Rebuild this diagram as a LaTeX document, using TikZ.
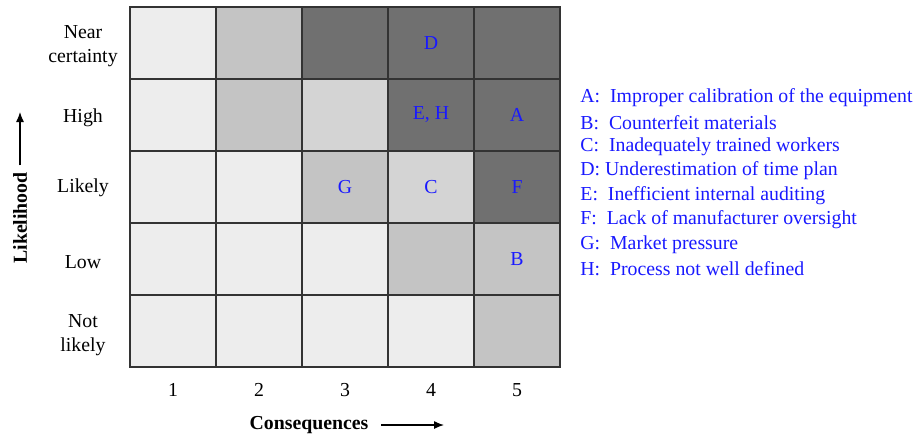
\documentclass[tikz,border=0pt]{standalone}
\usepackage{fontspec}
\setmainfont{Liberation Serif}
\usetikzlibrary{arrows.meta}
\definecolor{riskblue}{RGB}{25,25,255}
\tikzset{
lowcell/.style={rectangle, draw=black!80, fill=black!7, line width=0.75pt, inner sep=0pt, minimum width= 43pt, minimum height = 36pt, text=riskblue},
palecell/.style={lowcell, fill=black!17},
midcell/.style={lowcell, fill=black!23},
highcell/.style={lowcell, fill=black!56},
ratinglabel/.style={align=center, inner sep=1pt},
legendentry/.style={anchor=west, inner sep=0pt, text=riskblue},
axisarrow/.style={-{Latex[length=5pt, width=4pt]}, semithick, black},
}

\begin{document}
\begin{tikzpicture}[x=0.5pt, y=-0.5pt, font=\fontsize{9.9}{12}\selectfont]
    \useasboundingbox (0,0) rectangle (920,441);
    % near certainty
    \node[lowcell] at (173,43) (c11) {};
    \node[midcell] at (259,43) (c12) {};
    \node[highcell] at (345,43) (c13) {};
    \node[highcell] at (431,43) (c14) {D};
    \node[highcell] at (517,43) (c15) {};
    % high
    \node[lowcell] at (173,115) (c21) {};
    \node[midcell] at (259,115) (c22) {};
    \node[palecell] at (345,115) (c23) {};
    \node[highcell] at (431,115) (c24) {E, H};
    \node[highcell] at (517,115) (c25) {A};
    % likely
    \node[lowcell] at (173,187) (c31) {};
    \node[lowcell] at (259,187) (c32) {};
    \node[midcell] at (345,187) (c33) {G};
    \node[palecell] at (431,187) (c34) {C};
    \node[highcell] at (517,187) (c35) {F};
    % low
    \node[lowcell] at (173,259) (c41) {};
    \node[lowcell] at (259,259) (c42) {};
    \node[lowcell] at (345,259) (c43) {};
    \node[midcell] at (431,259) (c44) {};
    \node[midcell] at (517,259) (c45) {B};
    % not likely
    \node[lowcell] at (173,331) (c51) {};
    \node[lowcell] at (259,331) (c52) {};
    \node[lowcell] at (345,331) (c53) {};
    \node[lowcell] at (431,331) (c54) {};
    \node[midcell] at (517,331) (c55) {};

    \node[ratinglabel] at (83,46) (near) {Near\\certainty};
    \node[ratinglabel] at (83,118) (high) {High};
    \node[ratinglabel] at (83,188) (likely) {Likely};
    \node[ratinglabel] at (83,262) (low) {Low};
    \node[ratinglabel] at (83,335) (notlikely) {Not\\likely};

    \node at (173,390) (n1) {1};
    \node at (259,390) (n2) {2};
    \node at (345,390) (n3) {3};
    \node at (431,390) (n4) {4};
    \node at (517,390) (n5) {5};

    \node[rotate=90, font=\fontsize{9.9}{12}\selectfont\bfseries] at (20,218) (lik) {Likelihood};
    \coordinate (liktip) at (20,112);
    \draw[axisarrow] (lik.east) -- (liktip);
    \node[font=\fontsize{9.9}{12}\selectfont\bfseries] at (309,425) (cons) {Consequences};
    \coordinate (constip) at (444,425);
    \draw[axisarrow] ([xshift=3pt]cons.east) -- (constip);

    \node[legendentry] at (580,98) (la) {A:\ \ Improper calibration of the equipment};
    \node[legendentry] at (580,123) (lb) {B:\ \ Counterfeit materials};
    \node[legendentry] at (580,147) (lc) {C:\ \ Inadequately trained workers};
    \node[legendentry] at (580,171) (ld) {D: Underestimation of time plan};
    \node[legendentry] at (580,196) (le) {E:\ \ Inefficient internal auditing};
    \node[legendentry] at (580,220) (lf) {F:\ \ Lack of manufacturer oversight};
    \node[legendentry] at (580,245) (lg) {G:\ \ Market pressure};
    \node[legendentry] at (580,269) (lh) {H:\ \ Process not well defined};
\end{tikzpicture}
\end{document}
